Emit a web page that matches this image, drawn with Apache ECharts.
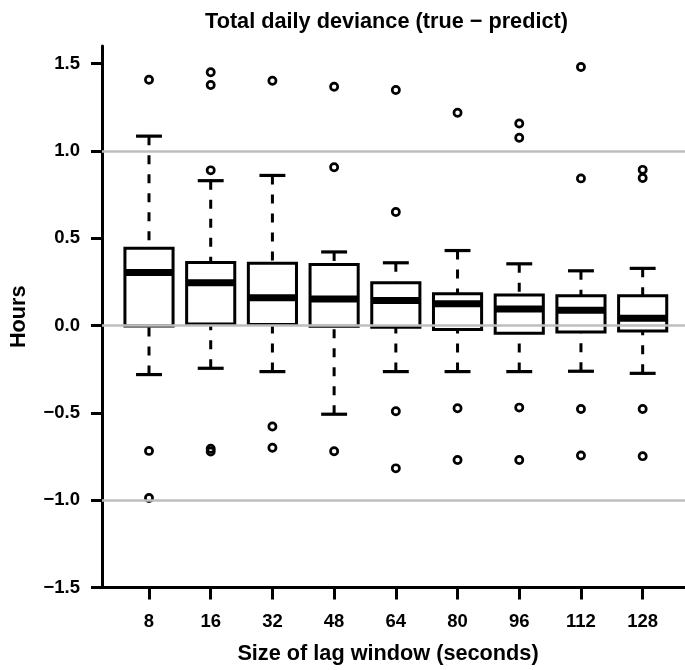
<!DOCTYPE html>
<html>
<head>
<meta charset="utf-8">
<script src="https://cdn.jsdelivr.net/npm/echarts@6/dist/echarts.min.js"></script>
<style>
  html, body { margin: 0; padding: 0; background: #fff; }
  #chart { width: 685px; height: 670px; }
</style>
</head>
<body>
<div id="chart"></div>
<script>
// ---- data ----
const categories = ['8', '16', '32', '48', '64', '80', '96', '112', '128'];
const lowerWhisker = [-0.281, -0.245, -0.264, -0.508, -0.264, -0.264, -0.264, -0.262, -0.274];
const q1 = [-0.003, 0.009, 0.006, -0.004, -0.010, -0.023, -0.044, -0.038, -0.032];
const median = [0.303, 0.244, 0.159, 0.151, 0.143, 0.125, 0.095, 0.087, 0.042];
const q3 = [0.442, 0.361, 0.356, 0.349, 0.245, 0.181, 0.174, 0.170, 0.170];
const upperWhisker = [1.084, 0.829, 0.859, 0.421, 0.359, 0.429, 0.353, 0.313, 0.327];
const outliers = [
  [1.407, -0.718, -0.988],
  [1.450, 1.377, 0.888, -0.706, -0.721],
  [1.401, -0.578, -0.700],
  [1.367, 0.906, -0.720],
  [1.348, 0.650, -0.491, -0.818],
  [1.218, -0.474, -0.770],
  [1.156, 1.075, -0.470, -0.770],
  [1.480, 0.842, -0.478, -0.744],
  [0.891, 0.844, -0.478, -0.748]
];
const yTickValues = [-1.5, -1.0, -0.5, 0.0, 0.5, 1.0, 1.5];
const gridLines = [-1.0, 0.0, 1.0];
const titleText = 'Total daily deviance (true \u2212 predict)';
const xName = 'Size of lag window (seconds)';
const yName = 'Hours';

// ---- build series data ----
const positions = categories.map((_, i) => i + 1);
const boxData = categories.map((_, i) => [positions[i], lowerWhisker[i], q1[i], median[i], q3[i], upperWhisker[i]]);
const outlierData = [];
outliers.forEach((arr, i) => arr.forEach(v => outlierData.push([positions[i], v])));

const BOX_W = 0.78;
const CAP_W = 0.42;
const FONT = '"Liberation Sans", Arial, Helvetica, sans-serif';

function renderBox(params, api) {
  const x = api.value(0);
  const pLw = api.coord([x, api.value(1)]);
  const pQ1 = api.coord([x, api.value(2)]);
  const pMed = api.coord([x, api.value(3)]);
  const pQ3 = api.coord([x, api.value(4)]);
  const pUw = api.coord([x, api.value(5)]);
  const half = api.size([BOX_W, 0])[0] / 2;
  const capHalf = api.size([CAP_W, 0])[0] / 2;
  const cx = pMed[0];
  const dashStyle = { stroke: '#000', lineWidth: 3, lineDash: [9, 10], lineCap: 'butt' };
  const solid = { stroke: '#000', lineWidth: 3.2, lineCap: 'butt' };
  return {
    type: 'group',
    children: [
      { type: 'line', shape: { x1: cx, y1: pUw[1], x2: cx, y2: pQ3[1] }, style: dashStyle },
      { type: 'line', shape: { x1: cx, y1: pLw[1], x2: cx, y2: pQ1[1] }, style: dashStyle },
      { type: 'line', shape: { x1: cx - capHalf, y1: pUw[1], x2: cx + capHalf, y2: pUw[1] }, style: solid },
      { type: 'line', shape: { x1: cx - capHalf, y1: pLw[1], x2: cx + capHalf, y2: pLw[1] }, style: solid },
      { type: 'rect', shape: { x: cx - half, y: pQ3[1], width: 2 * half, height: pQ1[1] - pQ3[1] },
        style: { fill: '#fff', stroke: '#000', lineWidth: 3 } },
      { type: 'line', shape: { x1: cx - half, y1: pMed[1], x2: cx + half, y2: pMed[1] },
        style: { stroke: '#000', lineWidth: 7, lineCap: 'butt' } }
    ]
  };
}

const chart = echarts.init(document.getElementById('chart'), null, { renderer: 'canvas' });
chart.setOption({
  animation: false,
  backgroundColor: '#fff',
  title: {
    text: titleText,
    left: 205,
    top: 11,
    padding: 0,
    textStyle: { fontFamily: FONT, fontWeight: 'bold', fontSize: 21.7, color: '#000' }
  },
  grid: { left: 102, right: 0, top: 46, bottom: 76, containLabel: false },
  xAxis: {
    type: 'value',
    min: 0.2384,
    max: 9.686,
    name: xName,
    nameLocation: 'middle',
    nameGap: 55.5,
    nameTextStyle: { fontFamily: FONT, fontWeight: 'bold', fontSize: 21.7, color: '#000', padding: [0, 11, 0, 0] },
    axisLine: { show: true, onZero: false, lineStyle: { color: '#000', width: 3 } },
    axisTick: { show: true, customValues: positions, length: 12, lineStyle: { color: '#000', width: 3 } },
    axisLabel: {
      customValues: positions,
      formatter: v => categories[Math.round(v) - 1],
      margin: 25,
      fontFamily: FONT, fontWeight: 'bold', fontSize: 18.5, color: '#000'
    },
    splitLine: { show: false }
  },
  yAxis: {
    type: 'value',
    min: -1.5,
    max: 1.6,
    name: yName,
    nameLocation: 'middle',
    nameGap: 72,
    nameTextStyle: { fontFamily: FONT, fontWeight: 'bold', fontSize: 21.7, color: '#000' },
    axisLine: { show: true, onZero: false, lineStyle: { color: '#000', width: 3 } },
    axisTick: { show: true, customValues: yTickValues, length: 11, lineStyle: { color: '#000', width: 3 } },
    axisLabel: {
      customValues: yTickValues,
      formatter: v => (v < 0 ? '\u2212' : '') + Math.abs(v).toFixed(1),
      margin: 22,
      fontFamily: FONT, fontWeight: 'bold', fontSize: 18.5, color: '#000'
    },
    splitLine: { show: false }
  },
  series: [
    {
      type: 'scatter',
      z: 1,
      data: outlierData,
      symbol: 'circle',
      symbolSize: 7.2,
      itemStyle: { color: 'rgba(0,0,0,0)', borderColor: '#000', borderWidth: 2.7, opacity: 1 },
      silent: true,
      markLine: {
        silent: true,
        symbol: ['none', 'none'],
        label: { show: false },
        lineStyle: { color: '#bebebe', width: 2.5, type: 'solid' },
        data: gridLines.map(v => ({ yAxis: v }))
      }
    },
    {
      type: 'custom',
      z: 2,
      silent: true,
      renderItem: renderBox,
      encode: { x: 0, y: [1, 2, 3, 4, 5] },
      data: boxData
    }
  ]
});
</script>
</body>
</html>
